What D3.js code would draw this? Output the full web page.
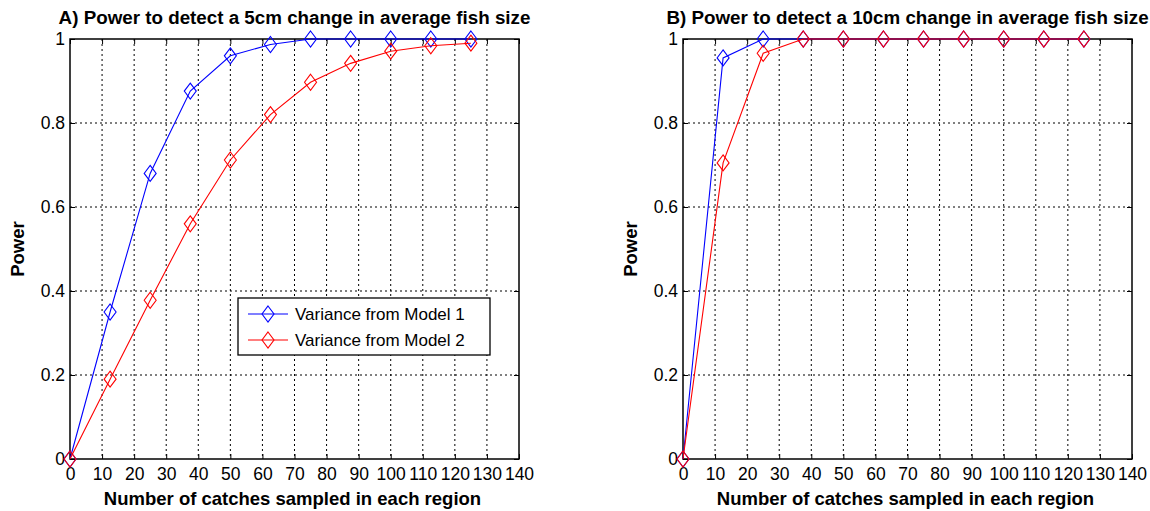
<!DOCTYPE html>
<html lang="en">
<head>
  <meta charset="utf-8" />
  <title>Power curves</title>
  <script src="https://d3js.org/d3.v7.min.js"></script>
  <style>
    body { margin: 0; background: #fff; font-family: "Liberation Sans", Arial, sans-serif; }
    .tick text { font-size: 17.5px; }
    .ttl { font-size: 18.8px; font-weight: bold; }
    .xl { font-size: 18.5px; font-weight: bold; }
  </style>
</head>
<body>
<svg id="chart" width="1150" height="511"></svg>
<script>
  // sample sizes (catches per region)
  var sampleSizes = [0, 12.5, 25, 37.5, 50, 62.5, 75, 87.5, 100, 112.5, 125];
  // panel A: 5cm change
  var powerA_model1 = [0, 0.35, 0.68, 0.876, 0.96, 0.987, 1, 1, 1, 1, 1];
  var powerA_model2 = [0, 0.19, 0.378, 0.56, 0.712, 0.82, 0.897, 0.942, 0.971, 0.984, 0.99];
  // panel B: 10cm change
  var powerB_model1 = [0, 0.955, 1, 1, 1, 1, 1, 1, 1, 1, 1];
  var powerB_model2 = [0, 0.705, 0.966, 1, 1, 1, 1, 1, 1, 1, 1];
  var xTicks = [0, 10, 20, 30, 40, 50, 60, 70, 80, 90, 100, 110, 120, 130, 140];
  var yTicks = [0, 0.2, 0.4, 0.6, 0.8, 1];
  var seriesNames = ["Variance from Model 1", "Variance from Model 2"];
  var seriesColors = ["#0000ff", "#ff0000"];

  var svg = d3.select("#chart");
  var plotTop = 39, plotBottom = 459;

  function diamond(sel, cx, cy) {
    sel.append("path")
      .attr("d", "M" + cx + "," + (cy - 8) + "L" + (cx + 6) + "," + cy + "L" + cx + "," + (cy + 8) + "L" + (cx - 6) + "," + cy + "Z")
      .attr("fill", "none");
  }

  function panel(left, right, title, series, showLegend) {
    var x = d3.scaleLinear().domain([0, 140]).range([left, right]);
    var y = d3.scaleLinear().domain([0, 1]).range([plotBottom, plotTop]);
    var g = svg.append("g");

    // grid
    g.selectAll(".gx").data(xTicks.slice(1, -1)).join("line")
      .attr("x1", d => x(d)).attr("x2", d => x(d)).attr("y1", plotTop).attr("y2", plotBottom)
      .attr("stroke", "#000").attr("stroke-width", 1).attr("stroke-dasharray", "2,3");
    g.selectAll(".gy").data(yTicks.slice(1, -1)).join("line")
      .attr("x1", left).attr("x2", right).attr("y1", d => y(d)).attr("y2", d => y(d))
      .attr("stroke", "#000").attr("stroke-width", 1).attr("stroke-dasharray", "2,3");

    // axes
    var xa = g.append("g").attr("transform", "translate(0," + plotBottom + ")")
      .call(d3.axisBottom(x).tickValues(xTicks).tickSize(-5).tickPadding(9).tickFormat(d3.format("d")));
    var xt = g.append("g").attr("transform", "translate(0," + plotTop + ")")
      .call(d3.axisTop(x).tickValues(xTicks).tickSize(-5).tickFormat(""));
    var ya = g.append("g").attr("transform", "translate(" + left + ",0)")
      .call(d3.axisLeft(y).tickValues(yTicks).tickSize(-5).tickPadding(5).tickFormat(d => d === 0 || d === 1 ? d3.format("d")(d) : d3.format(".1f")(d)));
    var yr = g.append("g").attr("transform", "translate(" + right + ",0)")
      .call(d3.axisRight(y).tickValues(yTicks).tickSize(-5).tickFormat(""));
    [xa, xt, ya, yr].forEach(function (a) {
      a.select(".domain").remove();
      a.selectAll(".tick line").attr("stroke", "#000");
      a.selectAll(".tick text").attr("fill", "#000").attr("font-family", "Liberation Sans, Arial, sans-serif");
    });
    g.append("rect").attr("x", left).attr("y", plotTop).attr("width", right - left).attr("height", plotBottom - plotTop)
      .attr("fill", "none").attr("stroke", "#000").attr("stroke-width", 1.5);

    // series
    var line = d3.line().x((d, i) => x(sampleSizes[i])).y(d => y(d));
    series.forEach(function (vals, k) {
      var s = g.append("g").attr("stroke", seriesColors[k]).attr("stroke-width", 1.1);
      s.append("path").datum(vals).attr("d", line).attr("fill", "none");
      vals.forEach(function (v, i) { diamond(s, x(sampleSizes[i]), y(v)); });
    });

    // labels
    g.append("text").attr("class", "ttl").attr("x", (left + right) / 2).attr("y", 24)
      .attr("text-anchor", "middle").text(title);
    g.append("text").attr("class", "xl").attr("x", (left + right) / 2 - 2).attr("y", 505)
      .attr("text-anchor", "middle").text("Number of catches sampled in each region");
    g.append("text").attr("class", "xl").attr("transform", "translate(" + (left - 46) + "," + ((plotTop + plotBottom) / 2) + ") rotate(-90)")
      .attr("text-anchor", "middle").text("Power");

    if (showLegend) {
      var lg = g.append("g").attr("transform", "translate(238,298)");
      lg.append("rect").attr("width", 252).attr("height", 57).attr("fill", "#fff")
        .attr("stroke", "#000").attr("stroke-width", 1.3);
      seriesNames.forEach(function (name, k) {
        var cy = 16 + k * 26;
        var it = lg.append("g").attr("stroke", seriesColors[k]).attr("stroke-width", 1.1);
        it.append("line").attr("x1", 10).attr("x2", 50).attr("y1", cy).attr("y2", cy);
        diamond(it, 30, cy);
        lg.append("text").attr("x", 57).attr("y", cy + 6).attr("font-size", 17).text(name);
      });
    }
  }

  panel(70, 519, "A) Power to detect a 5cm change in average fish size", [powerA_model1, powerA_model2], true);
  panel(683, 1132, "B) Power to detect a 10cm change in average fish size", [powerB_model1, powerB_model2], false);
</script>
</body>
</html>
